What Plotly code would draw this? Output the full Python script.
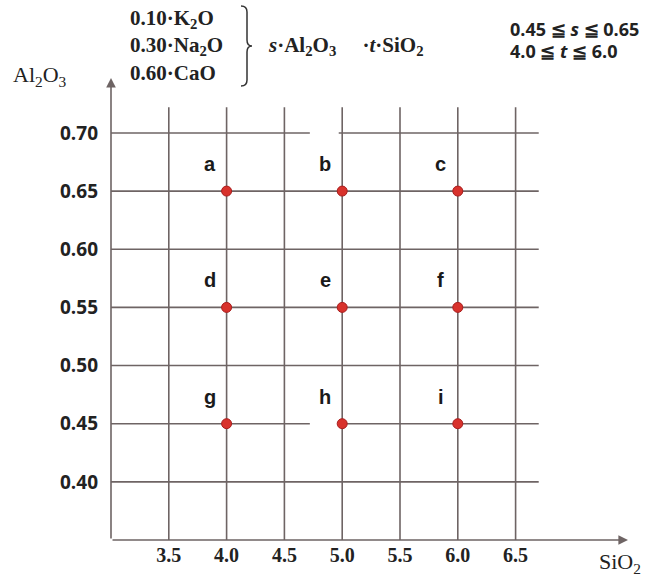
import plotly.graph_objects as go

# ---------------- data ----------------
x_tick_vals = [3.5, 4.0, 4.5, 5.0, 5.5, 6.0, 6.5]
x_tick_text = ["3.5", "4.0", "4.5", "5.0", "5.5", "6.0", "6.5"]
y_tick_vals = [0.40, 0.45, 0.50, 0.55, 0.60, 0.65, 0.70]
y_tick_text = ["0.40", "0.45", "0.50", "0.55", "0.60", "0.65", "0.70"]

point_labels = ["a", "b", "c", "d", "e", "f", "g", "h", "i"]
point_sio2 = [4.0, 5.0, 6.0, 4.0, 5.0, 6.0, 4.0, 5.0, 6.0]
point_al2o3 = [0.65, 0.65, 0.65, 0.55, 0.55, 0.55, 0.45, 0.45, 0.45]

# horizontal grid segments: (y, x_start, x_end)
h_seg_y = [0.70, 0.70, 0.65, 0.60, 0.55, 0.50, 0.45, 0.45, 0.40]
h_seg_x0 = [3.0, 4.97, 3.0, 3.0, 3.0, 3.0, 3.0, 5.0, 3.0]
h_seg_x1 = [4.72, 6.7, 6.7, 6.7, 6.7, 6.7, 4.72, 6.7, 6.7]
v_top = 0.722

# ---------------- layout geometry ----------------
W, H = 662, 577
L, R, T, B = 111, 31, 63, 37
PW, PH = W - L - R, H - T - B
XS = 115.6   # px per SiO2 unit
YS = 1163.0  # px per Al2O3 unit
x_range = [3.0, 3.0 + PW / XS]
y_range = [0.35, 0.35 + PH / YS]


def px(xp):
    return (xp - L) / PW


def py(yp):
    return (H - B - yp) / PH


GRID = "#6e6464"
TXT = "#222222"
fig = go.Figure()

# grid lines
gx, gy = [], []
for yv, a, b in zip(h_seg_y, h_seg_x0, h_seg_x1):
    gx += [a, b, None]
    gy += [yv, yv, None]
for xv in x_tick_vals:
    gx += [xv, xv, None]
    gy += [0.35, v_top, None]
fig.add_trace(go.Scatter(x=gx, y=gy, mode="lines",
                         line=dict(color=GRID, width=1.6),
                         hoverinfo="skip", showlegend=False))

# points
fig.add_trace(go.Scatter(x=point_sio2, y=point_al2o3, mode="markers",
                         marker=dict(color="#d8322c", size=10,
                                     line=dict(color="#a81e1e", width=1)),
                         showlegend=False))

annotations = []
for lab, xv, yv in zip(point_labels, point_sio2, point_al2o3):
    annotations.append(dict(x=xv, y=yv, xref="x", yref="y", text="<b>" + lab + "</b>",
                            showarrow=False, xshift=-17, yshift=27,
                            font=dict(family="Liberation Sans", size=20, color="#1a1a1a")))

# axis arrows
annotations.append(dict(x=3.0 + (628 - L) / XS, y=0.35, ax=3.0, ay=0.35,
                        xref="x", yref="y", axref="x", ayref="y", text="",
                        showarrow=True, arrowhead=2, arrowsize=1.2, arrowwidth=1.6,
                        arrowcolor=GRID, standoff=0, startstandoff=0))
annotations.append(dict(x=3.0, y=0.35 + (540 - 78) / YS, ax=3.0, ay=0.35,
                        xref="x", yref="y", axref="x", ayref="y", text="",
                        showarrow=True, arrowhead=2, arrowsize=1.2, arrowwidth=1.6,
                        arrowcolor=GRID, standoff=0, startstandoff=0))

SERIF = "Liberation Serif"
# axis titles
annotations.append(dict(x=px(40), y=py(76), xref="paper", yref="paper",
                        xanchor="center", yanchor="middle",
                        text="Al<sub>2</sub>O<sub>3</sub>", showarrow=False,
                        font=dict(family=SERIF, size=22, color=TXT)))
annotations.append(dict(x=px(620), y=py(563), xref="paper", yref="paper",
                        xanchor="center", yanchor="middle",
                        text="SiO<sub>2</sub>", showarrow=False,
                        font=dict(family=SERIF, size=22, color=TXT)))

# formula block
formula_lines = ["0.10·K<sub>2</sub>O", "0.30·Na<sub>2</sub>O", "0.60·CaO"]
for txt, yp in zip(formula_lines, [19, 46, 73]):
    annotations.append(dict(x=px(128), y=py(yp), xref="paper", yref="paper",
                            xanchor="left", yanchor="middle",
                            text="<b>" + txt + "</b>", showarrow=False,
                            font=dict(family=SERIF, size=21, color=TXT)))
annotations.append(dict(x=px(266), y=py(46), xref="paper", yref="paper",
                        xanchor="left", yanchor="middle",
                        text="<b><i>s</i>·Al<sub>2</sub>O<sub>3</sub>     ·<i>t</i>·SiO<sub>2</sub></b>",
                        showarrow=False, font=dict(family=SERIF, size=21, color=TXT)))
annotations.append(dict(x=px(508), y=py(29), xref="paper", yref="paper",
                        xanchor="left", yanchor="middle",
                        text="<b>0.45 ≦ <i>s</i> ≦ 0.65</b>", showarrow=False,
                        font=dict(family="Open Sans", size=18, color=TXT)))
annotations.append(dict(x=px(508), y=py(51), xref="paper", yref="paper",
                        xanchor="left", yanchor="middle",
                        text="<b>4.0 ≦ <i>t</i> ≦ 6.0</b>", showarrow=False,
                        font=dict(family="Open Sans", size=18, color=TXT)))

# bracket path (paper coords)
bx, top, mid, bot = 241, 6, 46, 86
pts = [("M", bx, top), ("Q", bx + 6, top, bx + 6, top + 6), ("L", bx + 6, mid - 6),
       ("Q", bx + 6, mid, bx + 11, mid), ("Q", bx + 6, mid, bx + 6, mid + 6),
       ("L", bx + 6, bot - 6), ("Q", bx + 6, bot, bx, bot)]
path = ""
for p in pts:
    s = p[0]
    coords = p[1:]
    for i in range(0, len(coords), 2):
        s += " %.5f,%.5f" % (px(coords[i]), py(coords[i + 1]))
    path += s + " "

fig.update_layout(
    width=W, height=H,
    margin=dict(l=L, r=R, t=T, b=B, autoexpand=False),
    paper_bgcolor="white", plot_bgcolor="white",
    annotations=annotations,
    shapes=[dict(type="path", path=path, xref="paper", yref="paper",
                 line=dict(color="#333", width=1.5))],
    xaxis=dict(range=x_range, tickvals=x_tick_vals,
               ticktext=["<b>" + t + "</b>" for t in x_tick_text],
               showgrid=False, zeroline=False, showline=False, ticks="",
               ticklabelstandoff=1, automargin=False,
               tickfont=dict(family=SERIF, size=20, color=TXT)),
    yaxis=dict(range=y_range, tickvals=y_tick_vals,
               ticktext=["<b>" + t + "</b>" for t in y_tick_text],
               showgrid=False, zeroline=False, showline=False, ticks="",
               ticklabelstandoff=12, automargin=False,
               tickfont=dict(family="Open Sans", size=19, color=TXT)),
)

fig.write_html("out.html", config={"displayModeBar": False},
               post_script="document.body.style.margin='0';")
